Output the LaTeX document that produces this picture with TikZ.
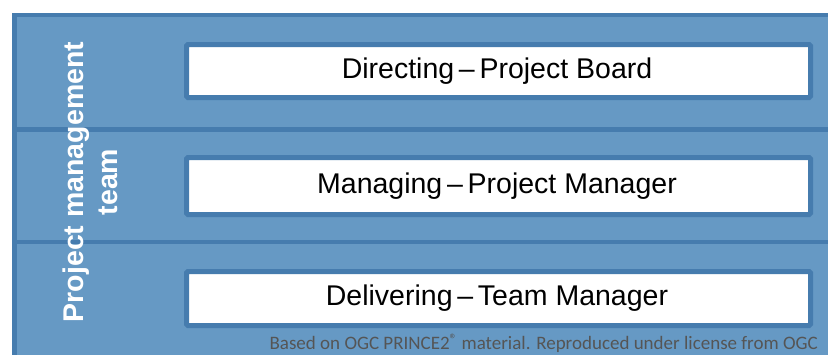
\documentclass[tikz,border=0pt]{standalone}
\usepackage{fontspec}
\setmainfont{Liberation Sans}
\newfontfamily\footfont{Carlito}
\definecolor{bandfill}{RGB}{102,153,196}
\definecolor{bandline}{RGB}{70,124,174}
\definecolor{foottext}{RGB}{85,85,85}
\begin{document}
\begin{tikzpicture}[x=1pt,y=-1pt,
  band/.style={draw=bandline,fill=bandfill,line width=4.5pt},
  rolebox/.style={draw=bandline,fill=white,line width=5pt,rounded corners=1.5pt},
  roletext/.style={font=\fontsize{28.5}{32}\selectfont,text=black},
  sidetext/.style={font=\bfseries\fontsize{28.5}{34}\selectfont,text=white,align=center,rotate=90}]
\useasboundingbox (0,0) rectangle (828,354);
\begin{scope}
\clip (0,0) rectangle (828,354);
\draw[band] (14.5,15) rectangle (840,129.5);
\draw[band] (14.5,129.5) rectangle (840,242);
\draw[band] (14.5,242) rectangle (840,370);
\end{scope}
\draw[rolebox] (186.5,44.5) rectangle (810.5,97.5);
\draw[rolebox] (186.5,157.5) rectangle (810.5,214.5);
\draw[rolebox] (186.5,271.5) rectangle (810.5,325.5);
\node[roletext] (d) at (497,71) {Directing\,–\,Project Board};
\node[roletext] (m) at (497,186) {Managing\,–\,Project Manager};
\node[roletext] (t) at (497,298.5) {Delivering\,–\,Team Manager};
\node[sidetext] (pm) at (90,182) {Project management\\team};
\node[anchor=base east,text=foottext,font=\footfont\fontsize{19}{20}\selectfont,inner sep=0pt] (f) at (818,349) {Based on OGC PRINCE2{\fontsize{15}{15}\selectfont\raisebox{4.5pt}{\textregistered}} material. Reproduced under license from OGC};
\end{tikzpicture}
\end{document}
